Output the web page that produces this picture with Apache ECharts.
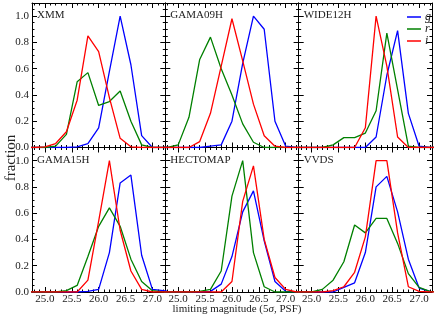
<!DOCTYPE html>
<html>
<head>
<meta charset="utf-8">
<script src="https://cdn.jsdelivr.net/npm/echarts@6/dist/echarts.min.js"></script>
<style>html,body{margin:0;padding:0;background:#fff}#c{width:436px;height:316px}</style>
</head>
<body>
<div id="c"></div>
<script>
// limiting magnitude bins
const mags = [24.6, 24.8, 25.0, 25.2, 25.4, 25.6, 25.8, 26.0, 26.2, 26.4, 26.6, 26.8, 27.0, 27.2, 27.4];
const fields = ['XMM', 'GAMA09H', 'WIDE12H', 'GAMA15H', 'HECTOMAP', 'VVDS'];
const bands = ['g', 'r', 'i'];
const xTickLabels = [25.0, 25.5, 26.0, 26.5, 27.0];
const yTickLabels = [0.0, 0.2, 0.4, 0.6, 0.8, 1.0];

const xmm_g = [0, 0, 0, 0, 0, 0.005, 0.03, 0.15, 0.58, 1.0, 0.63, 0.09, 0, 0, 0];
const xmm_r = [0, 0, 0, 0.01, 0.10, 0.50, 0.57, 0.32, 0.35, 0.43, 0.20, 0.02, 0, 0, 0];
const xmm_i = [0, 0, 0.005, 0.03, 0.12, 0.36, 0.85, 0.73, 0.38, 0.07, 0.005, 0, 0, 0, 0];

const gama09h_g = [0, 0, 0, 0, 0, 0.01, 0.02, 0.20, 0.64, 1.0, 0.90, 0.20, 0.01, 0, 0];
const gama09h_r = [0, 0, 0.02, 0.23, 0.67, 0.84, 0.60, 0.40, 0.18, 0.04, 0, 0, 0, 0, 0];
const gama09h_i = [0, 0, 0, 0, 0.045, 0.26, 0.62, 0.98, 0.66, 0.33, 0.09, 0.01, 0, 0, 0];

const wide12h_g = [0, 0, 0, 0, 0, 0, 0, 0, 0.08, 0.55, 0.89, 0.26, 0.01, 0, 0];
const wide12h_r = [0, 0, 0, 0, 0.02, 0.075, 0.075, 0.11, 0.28, 0.87, 0.44, 0.01, 0, 0, 0];
const wide12h_i = [0, 0, 0, 0, 0, 0, 0, 0.15, 1.0, 0.62, 0.08, 0, 0, 0, 0];

const gama15h_g = [0, 0, 0, 0, 0, 0, 0.005, 0.02, 0.30, 0.83, 0.89, 0.28, 0.02, 0.01, 0];
const gama15h_r = [0, 0, 0, 0, 0.01, 0.05, 0.27, 0.50, 0.64, 0.50, 0.25, 0.08, 0.01, 0, 0];
const gama15h_i = [0, 0, 0, 0, 0, 0, 0.09, 0.54, 1.0, 0.47, 0.16, 0.02, 0, 0, 0];

const hectomap_g = [0, 0, 0, 0, 0, 0.005, 0.06, 0.27, 0.61, 0.77, 0.39, 0.08, 0.005, 0, 0];
const hectomap_r = [0, 0, 0, 0, 0.005, 0.02, 0.16, 0.73, 1.0, 0.30, 0.04, 0, 0, 0, 0];
const hectomap_i = [0, 0, 0, 0, 0, 0, 0, 0.08, 0.69, 0.96, 0.40, 0.11, 0.02, 0, 0];

const vvds_g = [0, 0, 0, 0, 0, 0.035, 0.07, 0.30, 0.80, 0.88, 0.61, 0.25, 0.03, 0.005, 0];
const vvds_r = [0, 0, 0, 0.02, 0.09, 0.23, 0.51, 0.45, 0.56, 0.56, 0.37, 0.14, 0.035, 0.005, 0];
const vvds_i = [0, 0, 0, 0, 0.01, 0.04, 0.15, 0.42, 1.0, 1.0, 0.45, 0.04, 0.005, 0, 0];

const fieldData = [
  [xmm_g, xmm_r, xmm_i],
  [gama09h_g, gama09h_r, gama09h_i],
  [wide12h_g, wide12h_r, wide12h_i],
  [gama15h_g, gama15h_r, gama15h_i],
  [hectomap_g, hectomap_r, hectomap_i],
  [vvds_g, vvds_r, vvds_i]
];

const colors = ['#0000ff', '#008000', '#ff0000'];
const FONT = '"Liberation Serif", "DejaVu Serif", serif';
const XMIN = 24.76, XMAX = 27.24, YMIN = 0, YMAX = 1.1;

const xMinor = [];
for (let k = 248; k <= 272; k++) xMinor.push(k / 10);
const yMinor = [];
for (let k = 1; k <= 21; k++) yMinor.push(k * 5 / 100);

const lefts = [32, 165.3, 298.7];
const W = 133.3;
const tops = [3, 147.5];
const H = 144.5;

const grids = [], xAxes = [], yAxes = [], series = [], graphics = [];
const lineC = '#000';

fields.forEach((name, fi) => {
  const col = fi % 3, row = Math.floor(fi / 3);
  grids.push({left: lefts[col], top: tops[row], width: W, height: H});
  const showX = row === 1, showY = col === 0;
  const base = {type: 'value', gridIndex: fi, min: XMIN, max: XMAX, splitLine: {show: false}};
  const xi = xAxes.length;
  xAxes.push(Object.assign({}, base, {
    position: 'bottom',
    axisLine: {show: true, onZero: false, lineStyle: {color: lineC, width: 1}},
    axisTick: {show: true, inside: true, length: 5, customValues: xTickLabels, lineStyle: {color: lineC}},
    axisLabel: {show: showX, customValues: xTickLabels, margin: 2, color: '#222', fontFamily: FONT, fontSize: 11,
      formatter: v => v.toFixed(1)}
  }));
  xAxes.push(Object.assign({}, base, {
    position: 'bottom',
    axisLine: {show: false, onZero: false},
    axisTick: {show: true, inside: true, length: 2.5, customValues: xMinor, lineStyle: {color: lineC}},
    axisLabel: {show: false}
  }));
  xAxes.push(Object.assign({}, base, {
    position: 'top',
    axisLine: {show: true, onZero: false, lineStyle: {color: lineC, width: 1}},
    axisTick: {show: true, inside: true, length: 5, customValues: xTickLabels, lineStyle: {color: lineC}},
    axisLabel: {show: false}
  }));
  xAxes.push(Object.assign({}, base, {
    position: 'top',
    axisLine: {show: false, onZero: false},
    axisTick: {show: true, inside: true, length: 2.5, customValues: xMinor, lineStyle: {color: lineC}},
    axisLabel: {show: false}
  }));
  const ybase = {type: 'value', gridIndex: fi, min: YMIN, max: YMAX, splitLine: {show: false}};
  const yi = yAxes.length;
  yAxes.push(Object.assign({}, ybase, {
    position: 'left',
    axisLine: {show: true, onZero: false, lineStyle: {color: lineC, width: 1}},
    axisTick: {show: true, inside: true, length: 5, customValues: yTickLabels, lineStyle: {color: lineC}},
    axisLabel: {show: showY, customValues: yTickLabels, margin: 3, color: '#222', fontFamily: FONT, fontSize: 11,
      formatter: v => v.toFixed(1)}
  }));
  yAxes.push(Object.assign({}, ybase, {
    position: 'left',
    axisLine: {show: false, onZero: false},
    axisTick: {show: true, inside: true, length: 2.5, customValues: yMinor, lineStyle: {color: lineC}},
    axisLabel: {show: false}
  }));
  yAxes.push(Object.assign({}, ybase, {
    position: 'right',
    axisLine: {show: true, onZero: false, lineStyle: {color: lineC, width: 1}},
    axisTick: {show: true, inside: true, length: 5, customValues: yTickLabels, lineStyle: {color: lineC}},
    axisLabel: {show: false}
  }));
  yAxes.push(Object.assign({}, ybase, {
    position: 'right',
    axisLine: {show: false, onZero: false},
    axisTick: {show: true, inside: true, length: 2.5, customValues: yMinor, lineStyle: {color: lineC}},
    axisLabel: {show: false}
  }));

  fieldData[fi].forEach((vals, bi) => {
    series.push({
      type: 'line', name: bands[bi], xAxisIndex: xi, yAxisIndex: yi,
      data: mags.map((m, k) => [m, vals[k]]),
      symbol: 'none', clip: true, animation: false, silent: true,
      lineStyle: {color: colors[bi], width: 1.3},
      itemStyle: {color: colors[bi]}
    });
  });

  graphics.push({
    type: 'text', left: lefts[col] + 5, top: tops[row] + 7,
    style: {text: name, font: '11px ' + FONT, fill: '#222'}
  });
});

graphics.push({
  type: 'text', left: 4, top: 'middle', rotation: Math.PI / 2, originX: 0, originY: 0,
  style: {text: 'fraction', font: '15px ' + FONT, fill: '#222'}
});

const chart = echarts.init(document.getElementById('c'), null, {renderer: 'canvas'});
chart.setOption({
  animation: false,
  grid: grids,
  xAxis: xAxes,
  yAxis: yAxes,
  series: series,
  legend: {
    data: bands, orient: 'vertical', left: 402, top: 6, selectedMode: false,
    icon: 'rect', itemWidth: 14, itemHeight: 1.5, itemGap: 0,
    textStyle: {fontFamily: FONT, fontStyle: 'italic', fontSize: 12, color: '#222', lineHeight: 10.5, padding: [0, 0, 0, -1]}
  },
  title: {
    text: '{n|limiting magnitude (5}{s|σ}{n|, PSF)}', left: 232, textAlign: 'center', top: 299,
    textStyle: {fontWeight: 'normal', rich: {
      n: {fontFamily: FONT, fontSize: 11, fontWeight: 'normal', color: '#222'},
      s: {fontFamily: FONT, fontSize: 11, fontWeight: 'normal', fontStyle: 'italic', color: '#222'}
    }}
  },
  graphic: graphics
});
</script>
</body>
</html>
